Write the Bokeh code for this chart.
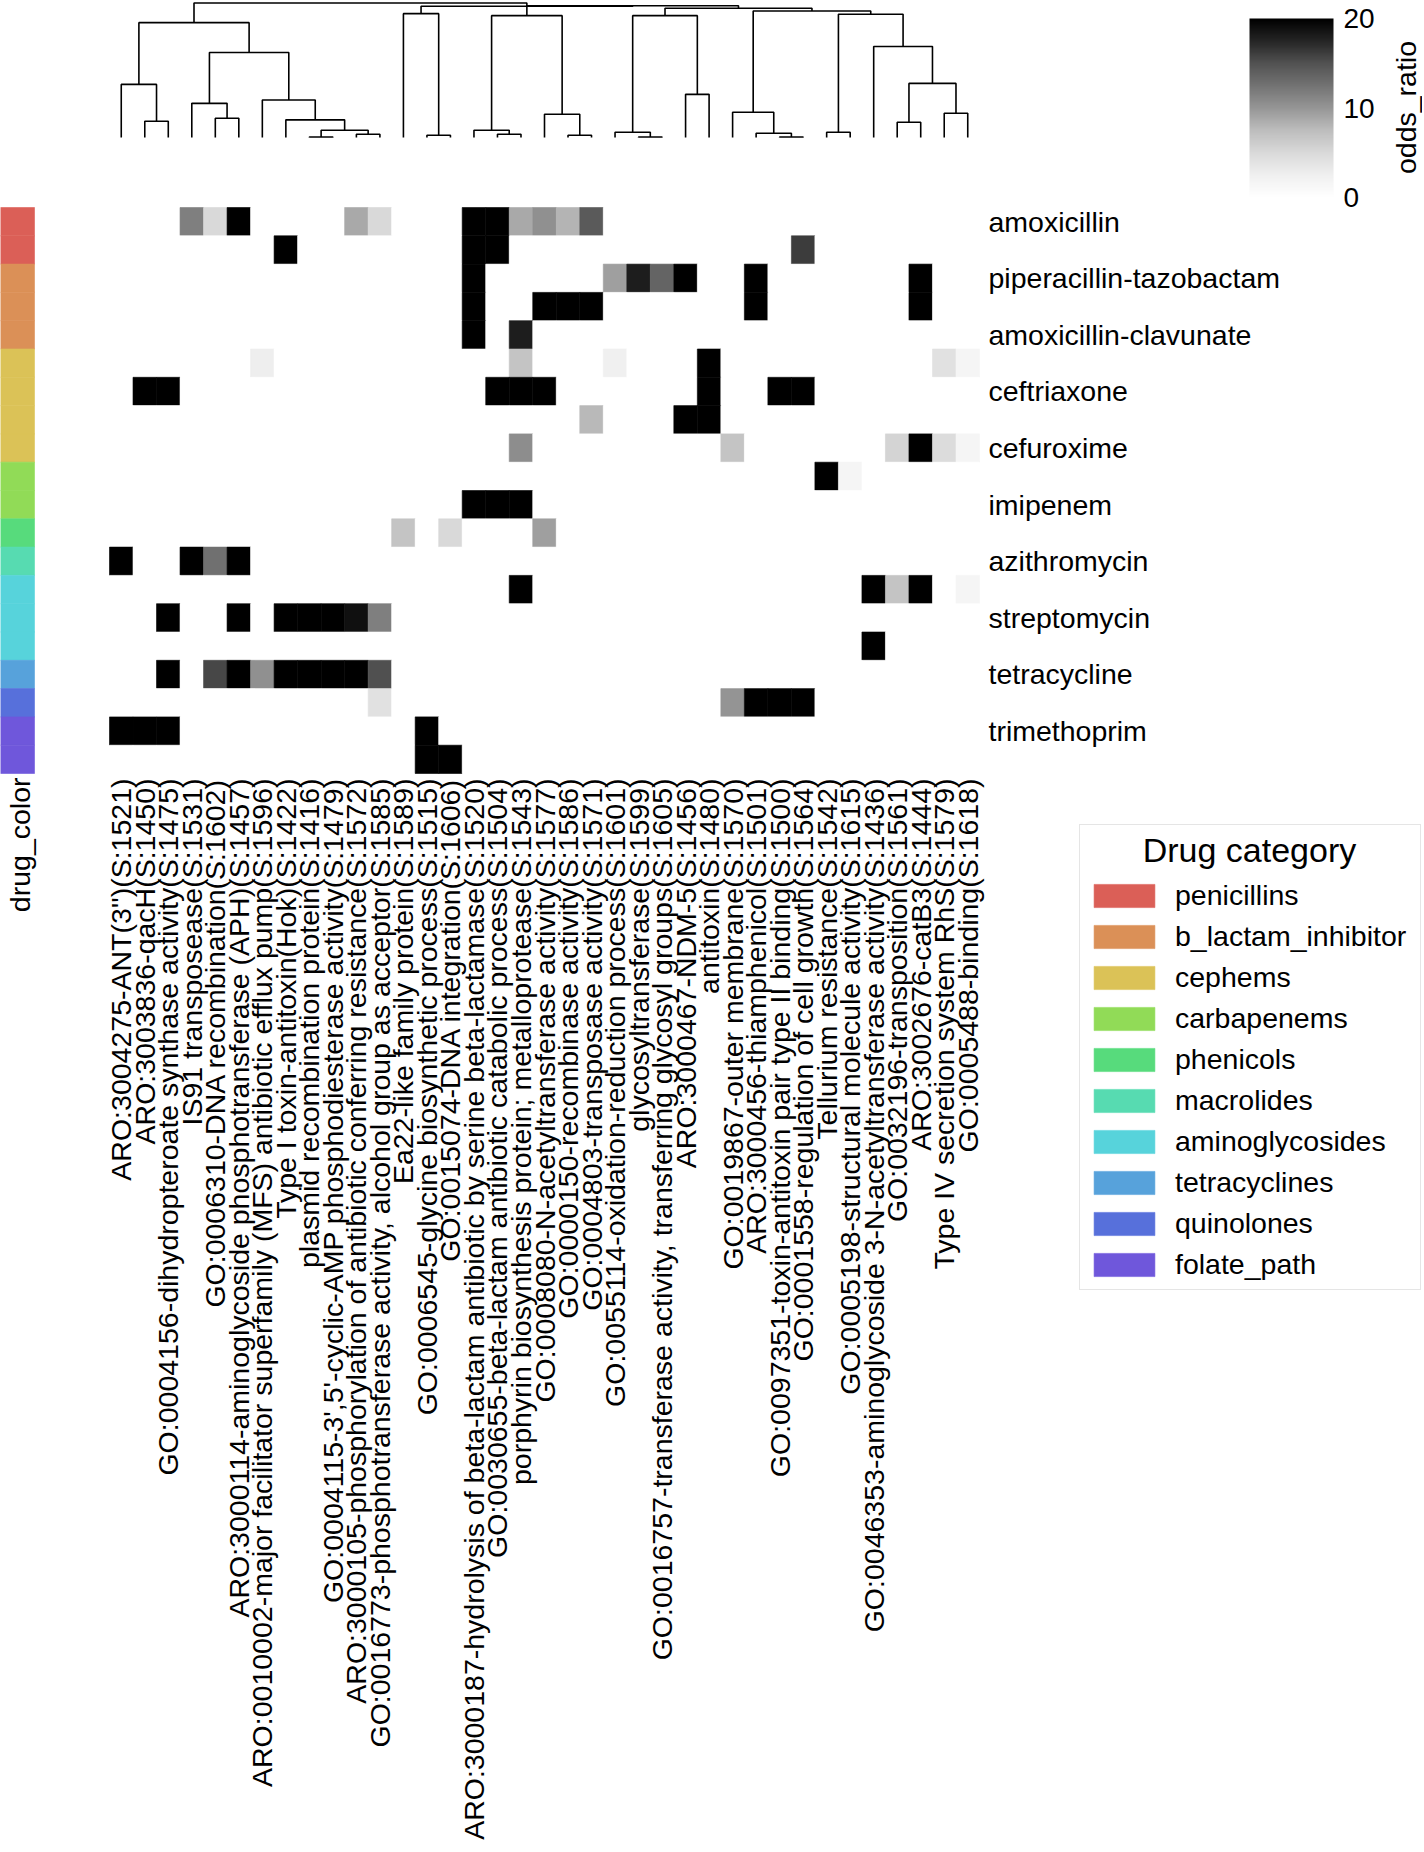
import numpy as np
from math import pi
from bokeh.plotting import figure
from bokeh.models import (Range1d, FixedTicker, ColumnDataSource, LinearColorMapper,
                          ColorBar, Legend, LegendItem, Label)
from bokeh.core.properties import value
from bokeh.embed import file_html
from bokeh.resources import INLINE

FONT = "Liberation Sans"

# ------------------------------------------------------------------ data
gene_labels = [
    "ARO:3004275-ANT(3'')(S:1521)",
    "ARO:3003836-qacH(S:1450)",
    "GO:0004156-dihydropteroate synthase activity(S:1475)",
    "IS91 transposease(S:1531)",
    "GO:0006310-DNA recombination(S:1602)",
    "ARO:3000114-aminoglycoside phosphotransferase (APH)(S:1457)",
    "ARO:0010002-major facilitator superfamily (MFS) antibiotic efflux pump(S:1596)",
    "Type I toxin-antitoxin(Hok)(S:1422)",
    "plasmid recombination protein(S:1416)",
    "GO:0004115-3',5'-cyclic-AMP phosphodiesterase activity(S:1479)",
    "ARO:3000105-phosphorylation of antibiotic conferring resistance(S:1572)",
    "GO:0016773-phosphotransferase activity, alcohol group as acceptor(S:1585)",
    "Ea22-like family protein(S:1589)",
    "GO:0006545-glycine biosynthetic process(S:1515)",
    "GO:0015074-DNA integration(S:1606)",
    "ARO:3000187-hydrolysis of beta-lactam antibiotic by serine beta-lactamase(S:1520)",
    "GO:0030655-beta-lactam antibiotic catabolic process(S:1504)",
    "porphyrin biosynthesis protein; metalloprotease(S:1543)",
    "GO:0008080-N-acetyltransferase activity(S:1577)",
    "GO:0000150-recombinase activity(S:1586)",
    "GO:0004803-transposase activity(S:1571)",
    "GO:0055114-oxidation-reduction process(S:1601)",
    "glycosyltransferase(S:1599)",
    "GO:0016757-transferase activity, transferring glycosyl groups(S:1605)",
    "ARO:3000467-NDM-5(S:1456)",
    "antitoxin(S:1480)",
    "GO:0019867-outer membrane(S:1570)",
    "ARO:3000456-thiamphenicol(S:1501)",
    "GO:0097351-toxin-antitoxin pair type II binding(S:1500)",
    "GO:0001558-regulation of cell growth(S:1564)",
    "Tellurium resistance(S:1542)",
    "GO:0005198-structural molecule activity(S:1615)",
    "GO:0046353-aminoglycoside 3-N-acetyltransferase activity(S:1436)",
    "GO:0032196-transposition(S:1561)",
    "ARO:3002676-catB3(S:1444)",
    "Type IV secretion system RhS(S:1579)",
    "GO:0005488-binding(S:1618)",
]

drug_labels = ["amoxicillin", "piperacillin-tazobactam", "amoxicillin-clavunate",
               "ceftriaxone", "cefuroxime", "imipenem", "azithromycin",
               "streptomycin", "tetracycline", "trimethoprim"]
drug_label_rows = [0, 2, 4, 6, 8, 10, 12, 14, 16, 18]

row_category = ["penicillins", "penicillins",
                "b_lactam_inhibitor", "b_lactam_inhibitor", "b_lactam_inhibitor",
                "cephems", "cephems", "cephems", "cephems",
                "carbapenems", "carbapenems",
                "phenicols",
                "macrolides",
                "aminoglycosides", "aminoglycosides", "aminoglycosides",
                "tetracyclines",
                "quinolones",
                "folate_path", "folate_path"]

legend_title = "Drug category"
category_names = ["penicillins", "b_lactam_inhibitor", "cephems", "carbapenems",
                  "phenicols", "macrolides", "aminoglycosides", "tetracyclines",
                  "quinolones", "folate_path"]
category_colors = ["#db5f57", "#db9057", "#dbc257", "#91db57", "#57db7c",
                   "#57dbb1", "#57d3db", "#57a2db", "#5770db", "#6f57db"]

odds_ratio = [
    [0, 0, 0, 11.6, 5.0, 20, 0, 0, 0, 0,  8.8, 5.0, 0, 0, 0, 20, 20, 8.8, 10.4, 8.1,  14.4, 0, 0, 0, 0, 0, 0, 0, 0, 0,  0, 0, 0, 0, 0, 0, 0],
    [0, 0, 0, 0, 0, 0, 0, 20, 0, 0,  0, 0, 0, 0, 0, 20, 20, 0, 0, 0,  0, 0, 0, 0, 0, 0, 0, 0, 0, 16.2,  0, 0, 0, 0, 0, 0, 0],
    [0, 0, 0, 0, 0, 0, 0, 0, 0, 0,  0, 0, 0, 0, 0, 20, 0, 0, 0, 0,  0, 9.4, 18, 13.6, 20, 0, 0, 20, 0, 0,  0, 0, 0, 0, 20, 0, 0],
    [0, 0, 0, 0, 0, 0, 0, 0, 0, 0,  0, 0, 0, 0, 0, 20, 0, 0, 20, 20,  20, 0, 0, 0, 0, 0, 0, 20, 0, 0,  0, 0, 0, 0, 20, 0, 0],
    [0, 0, 0, 0, 0, 0, 0, 0, 0, 0,  0, 0, 0, 0, 0, 20, 0, 18, 0, 0,  0, 0, 0, 0, 0, 0, 0, 0, 0, 0,  0, 0, 0, 0, 0, 0, 0],
    [0, 0, 0, 0, 0, 0, 2.7, 0, 0, 0,  0, 0, 0, 0, 0, 0, 0, 6.9, 0, 0,  0, 2.5, 0, 0, 0, 20, 0, 0, 0, 0,  0, 0, 0, 0, 0, 4.2, 1.7],
    [0, 20, 20, 0, 0, 0, 0, 0, 0, 0,  0, 0, 0, 0, 0, 0, 20, 20, 20, 0,  0, 0, 0, 0, 0, 20, 0, 0, 20, 20,  0, 0, 0, 0, 0, 0, 0],
    [0, 0, 0, 0, 0, 0, 0, 0, 0, 0,  0, 0, 0, 0, 0, 0, 0, 0, 0, 0,  7.8, 0, 0, 0, 20, 20, 0, 0, 0, 0,  0, 0, 0, 0, 0, 0, 0],
    [0, 0, 0, 0, 0, 0, 0, 0, 0, 0,  0, 0, 0, 0, 0, 0, 0, 10.7, 0, 0,  0, 0, 0, 0, 0, 0, 6.9, 0, 0, 0,  0, 0, 0, 5.4, 20, 4.7, 1.7],
    [0, 0, 0, 0, 0, 0, 0, 0, 0, 0,  0, 0, 0, 0, 0, 0, 0, 0, 0, 0,  0, 0, 0, 0, 0, 0, 0, 0, 0, 0,  20, 1.7, 0, 0, 0, 0, 0],
    [0, 0, 0, 0, 0, 0, 0, 0, 0, 0,  0, 0, 0, 0, 0, 20, 20, 20, 0, 0,  0, 0, 0, 0, 0, 0, 0, 0, 0, 0,  0, 0, 0, 0, 0, 0, 0],
    [0, 0, 0, 0, 0, 0, 0, 0, 0, 0,  0, 0, 6.9, 0, 5.0, 0, 0, 0, 9.4, 0,  0, 0, 0, 0, 0, 0, 0, 0, 0, 0,  0, 0, 0, 0, 0, 0, 0],
    [20, 0, 0, 20, 12.7, 20, 0, 0, 0, 0,  0, 0, 0, 0, 0, 0, 0, 0, 0, 0,  0, 0, 0, 0, 0, 0, 0, 0, 0, 0,  0, 0, 0, 0, 0, 0, 0],
    [0, 0, 0, 0, 0, 0, 0, 0, 0, 0,  0, 0, 0, 0, 0, 0, 0, 20, 0, 0,  0, 0, 0, 0, 0, 0, 0, 0, 0, 0,  0, 0, 20, 6.9, 20, 0, 1.7],
    [0, 0, 20, 0, 0, 20, 0, 20, 20, 20,  18.9, 11.6, 0, 0, 0, 0, 0, 0, 0, 0,  0, 0, 0, 0, 0, 0, 0, 0, 0, 0,  0, 0, 0, 0, 0, 0, 0],
    [0, 0, 0, 0, 0, 0, 0, 0, 0, 0,  0, 0, 0, 0, 0, 0, 0, 0, 0, 0,  0, 0, 0, 0, 0, 0, 0, 0, 0, 0,  0, 0, 20, 0, 0, 0, 0],
    [0, 0, 20, 0, 15.6, 20, 10.4, 20, 20, 20,  20, 15.1, 0, 0, 0, 0, 0, 0, 0, 0,  0, 0, 0, 0, 0, 0, 0, 0, 0, 0,  0, 0, 0, 0, 0, 0, 0],
    [0, 0, 0, 0, 0, 0, 0, 0, 0, 0,  0, 4.2, 0, 0, 0, 0, 0, 0, 0, 0,  0, 0, 0, 0, 0, 0, 10.1, 20, 20, 20,  0, 0, 0, 0, 0, 0, 0],
    [20, 20, 20, 0, 0, 0, 0, 0, 0, 0,  0, 0, 0, 20, 0, 0, 0, 0, 0, 0,  0, 0, 0, 0, 0, 0, 0, 0, 0, 0,  0, 0, 0, 0, 0, 0, 0],
    [0, 0, 0, 0, 0, 0, 0, 0, 0, 0,  0, 0, 0, 20, 20, 0, 0, 0, 0, 0,  0, 0, 0, 0, 0, 0, 0, 0, 0, 0,  0, 0, 0, 0, 0, 0, 0],
]

# column dendrogram: (left node, right node, merge distance); leaves are 0..36,
# the i-th merge creates node 37 + i
dend_links = [
    (1, 2, 16.3), (0, 37, 53.3), (4, 5, 19.3), (3, 39, 34.3),
    (8, 9, 0.5), (10, 11, 3.3), (41, 42, 7.3), (7, 43, 17.7),
    (6, 44, 37.7), (40, 45, 85.3), (38, 46, 115.3),
    (13, 14, 2.3), (12, 48, 124.3),
    (16, 17, 3.3), (15, 50, 7.3), (19, 20, 2.3), (18, 52, 23.3), (51, 53, 122.3),
    (22, 23, 0.5), (21, 55, 5.3), (24, 25, 43.3), (56, 57, 122.3),
    (28, 29, 0.5), (27, 59, 4.3), (26, 60, 25.3), (30, 31, 5.3),
    (33, 34, 15.3), (35, 36, 24.3), (63, 64, 54.3), (32, 65, 91.3),
    (62, 66, 123.7), (61, 67, 127.0), (58, 68, 129.7),
    (54, 69, 132.3), (49, 70, 131.7), (47, 71, 135.0),
]

cbar_ticks = [0, 10, 20]
cbar_low, cbar_high = 0, 20

n_cols = len(gene_labels)
n_rows = len(row_category)
for r in odds_ratio:
    assert len(r) == n_cols
assert len(odds_ratio) == n_rows

# ------------------------------------------------------------------ layout (page px)
FIG_W, FIG_H = 1422, 1850
heat_left, heat_right = 109, 979
heat_top, heat_bottom = 207, 773
strip_w = 34
dend_base, dend_root_px = 137, 2.5
LBL = "28.5px"

col_w = (heat_right - heat_left) / n_cols
row_h = (heat_bottom - heat_top) / n_rows
dend_max = max(h for _, _, h in dend_links)
dend_k = (dend_base - dend_root_px) / dend_max

greys_ctrl = [255, 240, 217, 189, 150, 115, 82, 37, 0]  # matplotlib "Greys"
lev = np.interp(np.linspace(0, 1, 256), np.linspace(0, 1, len(greys_ctrl)), greys_ctrl)
palette = ["#%02x%02x%02x" % ((int(round(v)),) * 3) for v in lev]
mapper = LinearColorMapper(palette=palette, low=cbar_low, high=cbar_high)

p = figure(width=FIG_W, height=FIG_H,
           x_range=Range1d(-heat_left / col_w, (FIG_W - heat_left) / col_w),
           y_range=Range1d((FIG_H - heat_top) / row_h, -heat_top / row_h),
           x_axis_location=None, y_axis_location=None,
           output_backend="svg", toolbar_location=None, min_border=0,
           outline_line_color=None, background_fill_color="white",
           border_fill_color="white")
p.xgrid.visible = False
p.ygrid.visible = False

p.extra_x_ranges = {"strip": Range1d(0, FIG_W / strip_w),
                    "px": Range1d(0, FIG_W)}
p.extra_y_ranges = {"dend": Range1d(-(FIG_H - dend_base) / dend_k, dend_base / dend_k),
                    "px": Range1d(FIG_H, 0)}

# heatmap
hx, hy, hv = [], [], []
for r in range(n_rows):
    for c in range(n_cols):
        hx.append(c + 0.5)
        hy.append(r + 0.5)
        hv.append(odds_ratio[r][c])
heat_src = ColumnDataSource(dict(x=hx, y=hy, v=hv))
p.rect(x="x", y="y", width=1, height=1, source=heat_src,
       fill_color={"field": "v", "transform": mapper},
       line_color={"field": "v", "transform": mapper}, line_width=0.6)

# row colour strip
cat_color = dict(zip(category_names, category_colors))
strip_src = ColumnDataSource(dict(x=[0.5] * n_rows, y=[r + 0.5 for r in range(n_rows)],
                                  color=[cat_color[c] for c in row_category]))
strip_r = p.rect(x="x", y="y", width=1, height=1, source=strip_src,
                 fill_color="color", line_color="color", line_width=0.6,
                 x_range_name="strip")

# dendrogram
xpos = {k: k + 0.5 for k in range(n_cols)}
hgt = {k: 0.0 for k in range(n_cols)}
dxs, dys = [], []
for i, (a, b, h) in enumerate(dend_links):
    dxs.append([xpos[a], xpos[a], xpos[b], xpos[b]])
    dys.append([hgt[a], h, h, hgt[b]])
    xpos[n_cols + i] = (xpos[a] + xpos[b]) / 2
    hgt[n_cols + i] = h
p.multi_line(xs=dxs, ys=dys, y_range_name="dend", line_color="black", line_width=1.6)

# column (gene) labels, rotated, ending just below the heatmap
col_src = ColumnDataSource(dict(x=[c + 0.5 for c in range(n_cols)], y=[n_rows] * n_cols,
                                text=gene_labels))
p.text(x="x", y="y", text="text", source=col_src, angle=pi / 2, y_offset=5,
       text_align="right", text_baseline="middle", text_font=value(FONT),
       text_font_size=value(LBL), text_color="black")

# row (drug) labels
row_src = ColumnDataSource(dict(x=[n_cols] * len(drug_labels),
                                y=[r + 0.5 for r in drug_label_rows], text=drug_labels))
p.text(x="x", y="y", text="text", source=row_src, x_offset=9,
       text_align="left", text_baseline="middle", text_font=value(FONT),
       text_font_size=value(LBL), text_color="black")

# colour bar
cbar = ColorBar(color_mapper=mapper, location=(1249, FIG_H - 197),
                width=84, height=179, padding=0,
                ticker=FixedTicker(ticks=cbar_ticks),
                major_label_text_font=FONT, major_label_text_font_size="28px",
                major_label_text_color="black",
                label_standoff=10, major_tick_line_color=None,
                bar_line_color=None, border_line_color=None,
                background_fill_alpha=0)
p.add_layout(cbar)
p.add_layout(Label(x=1405, y=107, x_range_name="px", y_range_name="px",
                   text="odds_ratio", angle=pi / 2, text_align="center",
                   text_baseline="alphabetic", text_font=FONT,
                   text_font_size=LBL, text_color="black"))

# legend (title nudged to the centre of the box with non-breaking spaces)
items = [LegendItem(label=cat, renderers=[strip_r], index=row_category.index(cat))
         for cat in category_names]
legend = Legend(items=items, location=(1079, FIG_H - 1290),
                title="\u00a0" * 6 + legend_title, title_text_color="black",
                title_text_font=FONT, title_text_font_size="34px",
                title_text_font_style="normal", title_standoff=6,
                padding=6, spacing=3, margin=0,
                glyph_width=76, glyph_height=29, label_height=38, label_width=239,
                label_standoff=13, label_text_font=FONT,
                label_text_font_size=LBL, label_text_color="black",
                border_line_color="#cccccc", border_line_width=1.5,
                background_fill_color="white", background_fill_alpha=1)
p.add_layout(legend)

# strip caption
p.add_layout(Label(x=19, y=777, x_range_name="px", y_range_name="px",
                   text="drug_color", angle=pi / 2, text_align="right",
                   text_baseline="alphabetic", text_font=FONT,
                   text_font_size=LBL, text_color="black"))

open("out.html", "w").write(file_html(p, INLINE))
